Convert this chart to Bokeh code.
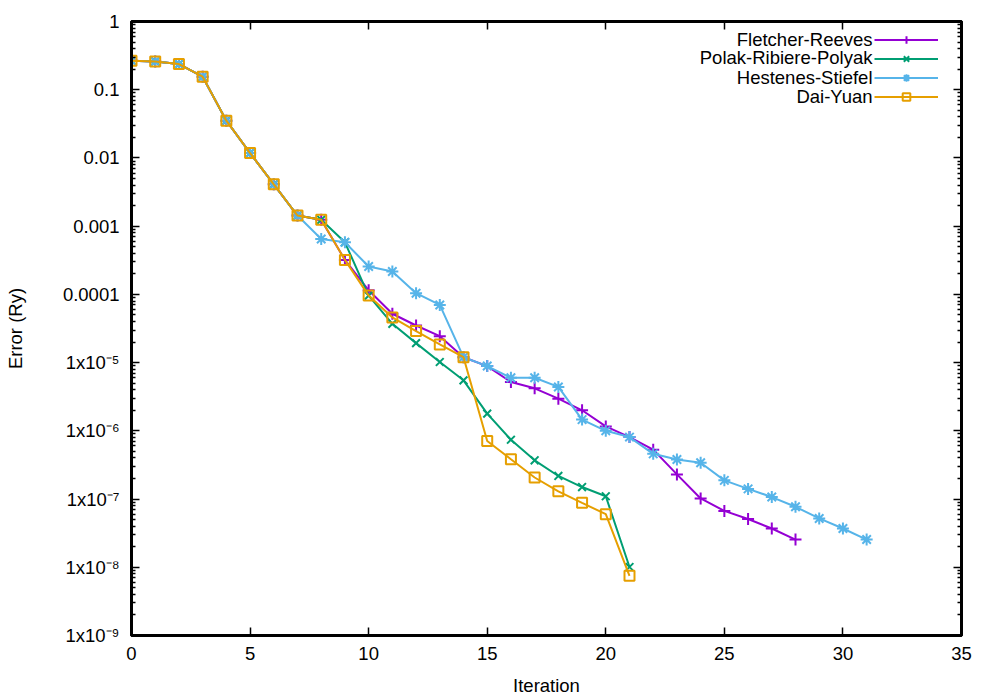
from bokeh.plotting import figure
from bokeh.models import (FixedTicker, CustomJSTickFormatter, LinearAxis, LogAxis,
                          Legend, LegendItem, Label)
from bokeh.embed import file_html
from bokeh.resources import INLINE

FONT = "Liberation Sans"
FS = "18.5px"

series_names = ["Fletcher-Reeves", "Polak-Ribiere-Polyak", "Hestenes-Stiefel", "Dai-Yuan"]
series_colors = ["#9400D3", "#009E73", "#56B4E9", "#E69F00"]
series_markers = ["cross", "x", "asterisk", "square"]

fr_iter = [0, 1, 2, 3, 4, 5, 6, 7, 8, 9, 10, 11, 12, 13, 14, 15, 16, 17, 18, 19, 20,
           21, 22, 23, 24, 25, 26, 27, 28]
fr_err = [0.266, 0.26, 0.238, 0.155, 0.0352, 0.0118, 0.0041, 0.00143, 0.00124, 3.2e-4,
          1.15e-4, 5.2e-5, 3.5e-5, 2.44e-5, 1.2e-5, 8.9e-6, 5.2e-6, 4.2e-6, 2.96e-6,
          2.0e-6, 1.16e-6, 8.1e-7, 5.3e-7, 2.3e-7, 1.02e-7, 6.7e-8, 5.1e-8, 3.7e-8, 2.55e-8]

prp_iter = [0, 1, 2, 3, 4, 5, 6, 7, 8, 9, 10, 11, 12, 13, 14, 15, 16, 17, 18, 19, 20, 21]
prp_err = [0.266, 0.26, 0.238, 0.155, 0.0352, 0.0118, 0.0041, 0.00143, 0.00124, 5.8e-4,
           9.6e-5, 3.7e-5, 1.93e-5, 1.02e-5, 5.5e-6, 1.79e-6, 7.4e-7, 3.7e-7, 2.18e-7,
           1.5e-7, 1.1e-7, 1.01e-8]

hs_iter = [0, 1, 2, 3, 4, 5, 6, 7, 8, 9, 10, 11, 12, 13, 14, 15, 16, 17, 18, 19, 20,
           21, 22, 23, 24, 25, 26, 27, 28, 29, 30, 31]
hs_err = [0.266, 0.26, 0.238, 0.155, 0.0352, 0.0118, 0.0041, 0.00143, 6.5e-4, 5.8e-4,
          2.56e-4, 2.16e-4, 1.04e-4, 7.0e-5, 1.2e-5, 8.9e-6, 6.0e-6, 6.0e-6, 4.4e-6,
          1.46e-6, 1.0e-6, 8.1e-7, 4.6e-7, 3.8e-7, 3.4e-7, 1.88e-7, 1.41e-7, 1.07e-7,
          7.7e-8, 5.2e-8, 3.7e-8, 2.55e-8]

dy_iter = [0, 1, 2, 3, 4, 5, 6, 7, 8, 9, 10, 11, 12, 13, 14, 15, 16, 17, 18, 19, 20, 21]
dy_err = [0.266, 0.26, 0.238, 0.155, 0.0352, 0.0118, 0.0041, 0.00143, 0.00124, 3.2e-4,
          9.6e-5, 4.6e-5, 2.9e-5, 1.85e-5, 1.2e-5, 7.1e-7, 3.83e-7, 2.07e-7, 1.3e-7,
          8.8e-8, 6.0e-8, 7.5e-9]

x_ticks = [0, 5, 10, 15, 20, 25, 30, 35]
y_ticks = [1e-9, 1e-8, 1e-7, 1e-6, 1e-5, 1e-4, 1e-3, 1e-2, 1e-1, 1.0]
y_tick_labels = ["1", "0.1", "0.01", "0.001", "0.0001", "1x10\u207b\u2075", "1x10\u207b\u2076",
                 "1x10\u207b\u2077", "1x10\u207b\u2078", "1x10\u207b\u2079"]
y_minor = [m * d for d in y_ticks[:-1] for m in (2, 3, 4, 5, 6, 7, 8, 9)]

p = figure(width=990, height=698, x_range=(0, 35), y_range=(1e-9, 1), y_axis_type="log",
           output_backend="svg", toolbar_location=None,
           min_border_left=131, min_border_right=29, min_border_top=21, min_border_bottom=63)
p.xgrid.visible = False
p.ygrid.visible = False
p.outline_line_color = "black"
p.outline_line_width = 3
p.background_fill_color = "white"
p.border_fill_color = "white"

yfmt = CustomJSTickFormatter(args=dict(labels=y_tick_labels), code="""
const e = Math.round(Math.log10(tick));
return labels[-e];
""")
blank = CustomJSTickFormatter(code="return '';")

def style(ax, labels=True):
    ax.axis_line_color = "black"
    ax.axis_line_width = 3
    ax.major_tick_in = 8
    ax.major_tick_out = 0
    ax.minor_tick_in = 4
    ax.minor_tick_out = 0
    ax.major_tick_line_width = 1.5
    ax.minor_tick_line_width = 1.5
    ax.major_tick_line_color = "black"
    ax.minor_tick_line_color = "black"
    ax.major_label_text_font = FONT
    ax.major_label_text_font_size = FS if labels else "0px"
    ax.major_label_text_color = "black"
    ax.axis_label_text_font = FONT
    ax.axis_label_text_font_size = FS
    ax.axis_label_text_font_style = "normal"
    ax.axis_label_text_color = "black"

xa = p.xaxis[0]
xa.ticker = FixedTicker(ticks=x_ticks, minor_ticks=[])
xa.axis_label = "Iteration"
style(xa)
xa.major_label_standoff = 11
xa.axis_label_standoff = 12

ya = p.yaxis[0]
ya.ticker = FixedTicker(ticks=y_ticks, minor_ticks=y_minor)
ya.formatter = yfmt
ya.axis_label = "Error (Ry)"
style(ya)
ya.major_label_standoff = 12
ya.axis_label_standoff = 34

top = LinearAxis(ticker=FixedTicker(ticks=x_ticks, minor_ticks=[]), formatter=blank)
style(top, labels=False)
top.major_label_standoff = 0
p.add_layout(top, "above")

right = LogAxis(ticker=FixedTicker(ticks=y_ticks, minor_ticks=y_minor), formatter=blank)
style(right, labels=False)
right.major_label_standoff = 0
p.add_layout(right, "right")

data = [(fr_iter, fr_err), (prp_iter, prp_err), (hs_iter, hs_err), (dy_iter, dy_err)]
sizes = [12, 11, 12, 10]
items = []
for (xs, ys), name, col, mk, sz in zip(data, series_names, series_colors, series_markers, sizes):
    lr = p.line(xs, ys, line_color=col, line_width=2)
    sr = p.scatter(xs, ys, marker=mk, size=sz, line_color=col, fill_color=None, line_width=2)
    items.append(LegendItem(label=" ", renderers=[lr, sr]))

leg = Legend(items=items, location=(743, 529), glyph_width=64, glyph_height=19,
             label_width=0, label_height=19, label_standoff=0, padding=0, margin=0, spacing=0,
             border_line_color=None, background_fill_alpha=0, label_text_font_size="1px")
p.add_layout(leg)

row_y = [595.7, 577.7, 558.3, 539.0]
for name, yy in zip(series_names, row_y):
    p.add_layout(Label(x=741, y=yy, x_units="screen", y_units="screen", text=name,
                       text_align="right", text_baseline="middle", text_font=FONT,
                       text_font_size=FS, text_color="black"))

open("out.html", "w").write(file_html(p, INLINE))
